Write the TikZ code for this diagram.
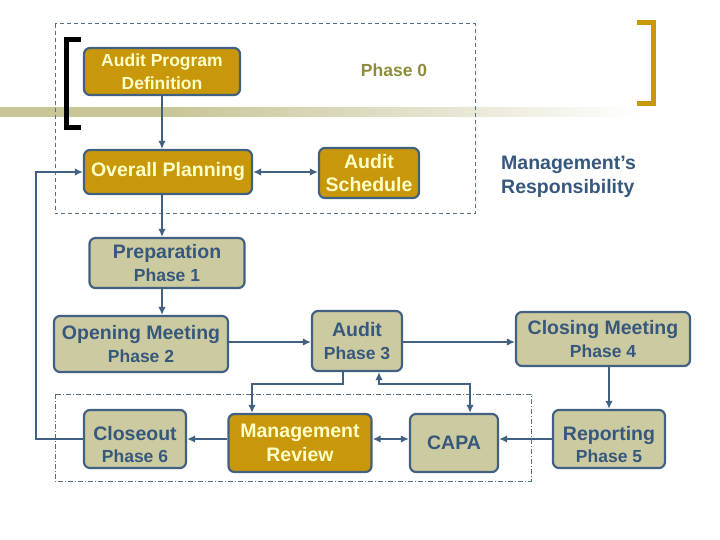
\documentclass[tikz,border=0pt]{standalone}
\usepackage{fontspec}
\setmainfont{Liberation Sans}
\usetikzlibrary{arrows.meta,calc}
\definecolor{gold}{RGB}{200,152,10}
\definecolor{khaki}{RGB}{204,202,160}
\definecolor{edge}{RGB}{66,96,128}
\definecolor{ktext}{RGB}{55,88,125}
\definecolor{gtext}{RGB}{255,255,200}
\definecolor{olivec}{RGB}{140,140,60}
\definecolor{barc}{RGB}{200,198,150}
\definecolor{barm}{RGB}{232,230,212}
\definecolor{dashc}{RGB}{90,110,130}
\pgfdeclarehorizontalshading{barshade}{100bp}{color(0bp)=(barc); color(37.9bp)=(barc); color(59.8bp)=(barm); color(73.5bp)=(white); color(100bp)=(white)}
\tikzset{
  box/.style={draw=edge, line width=2.2pt, rounded corners=6pt, align=center, inner sep=0pt,
    font=\bfseries\fontsize{19.5}{23.5}\selectfont},
  goldbox/.style={box, fill=gold, text=gtext},
  khakibox/.style={box, fill=khaki, text=ktext},
  conn/.style={draw=edge, line width=2.2pt, -{Latex[length=8pt,width=7.5pt]}},
  dconn/.style={draw=edge, line width=2.2pt, {Latex[length=8pt,width=7.5pt]}-{Latex[length=8pt,width=7.5pt]}},
}
\newcommand{\phs}[1]{{\fontsize{17.5}{23}\selectfont #1}}
\newcommand{\lowtwo}[2]{\raisebox{-8pt}[\height][\depth]{\begin{tabular}{@{}c@{}}#1\\[-1.5pt]\phs{#2}\end{tabular}}}
\begin{document}
\begin{tikzpicture}[x=1pt,y=-1pt]
\useasboundingbox (0,0) rectangle (720,540);
% background bar
\shade[shading=barshade] (0,108) rectangle (660,117);
% brackets
\draw[black, line width=5pt] (81,40) -- (66,40) -- (66,128) -- (81,128);
\draw[gold, line width=5pt] (637,23) -- (653,23) -- (653,104) -- (637,104);
% frames
\draw[dashc, line width=1pt, dash pattern=on 4pt off 3pt] (55,24) rectangle (475,214);
\draw[dashc, line width=0.8pt, dash pattern=on 5pt off 2pt on 1pt off 2pt] (55,394) rectangle (531,481);
% nodes
\node[goldbox, minimum width=156pt, minimum height=47pt, font=\bfseries\fontsize{17.5}{23}\selectfont] (apd) at (162,71.5) {Audit Program\\Definition};
\node[text=olivec, font=\bfseries\fontsize{17.5}{21}\selectfont] (ph0) at (394,70) {Phase 0};
\node[goldbox, minimum width=168pt, minimum height=44pt] (op) at (168,172) {Overall Planning};
\node[goldbox, minimum width=100pt, minimum height=50pt] (as) at (369,173) {Audit\\Schedule};
\node[text=ktext, align=left, anchor=west, inner sep=0pt, font=\bfseries\fontsize{19.5}{24}\selectfont] (mresp) at (501,177) {Management’s\\Responsibility};
\node[khakibox, minimum width=155pt, minimum height=50pt] (prep) at (167,263) {Preparation\\\phs{Phase 1}};
\node[khakibox, minimum width=174pt, minimum height=56pt] (open) at (141,344) {Opening Meeting\\\phs{Phase 2}};
\node[khakibox, minimum width=90pt, minimum height=60pt] (audit) at (357,341) {Audit\\\phs{Phase 3}};
\node[khakibox, minimum width=174pt, minimum height=54pt] (closing) at (603,339) {Closing Meeting\\\phs{Phase 4}};
\node[khakibox, minimum width=102pt, minimum height=58pt] (closeout) at (135,439) {\lowtwo{Closeout}{Phase 6}};
\node[goldbox, minimum width=143pt, minimum height=58pt] (mr) at (300,443) {Management\\Review};
\node[khakibox, minimum width=88pt, minimum height=58pt] (capa) at (454,443) {CAPA};
\node[khakibox, minimum width=112pt, minimum height=58pt] (rep) at (609,439) {\lowtwo{Reporting}{Phase 5}};
\coordinate (cx) at (162,0);
\coordinate (lx) at (36,0);
% connectors
\draw[conn] (apd.south -| cx) -- (op.north -| cx);
\draw[dconn] (op.east) -- (as.west |- op.east);
\draw[conn] (op.south -| cx) -- (prep.north -| cx);
\draw[conn] (prep.south -| cx) -- (open.north -| cx);
\draw[conn] (open.east |- 0,342) -- (audit.west |- 0,342);
\draw[conn] (audit.east |- 0,342) -- (closing.west |- 0,342);
\draw[conn] (closing.south -| rep) -- (rep.north);
\draw[conn] (rep.west) -- (capa.east |- rep.west);
\draw[dconn] (mr.east |- rep.west) -- (capa.west |- rep.west);
\draw[conn] (mr.west |- rep.west) -- (closeout.east);
\draw[conn] (closeout.west) -- (closeout.west -| lx) |- (op.west);
\draw[conn] ([xshift=-14pt]audit.south) -- ++(0,12) -| ([xshift=-48pt]mr.north);
\draw[dconn] ([xshift=22pt]audit.south) -- ++(0,12) -| ([xshift=16pt]capa.north);
\end{tikzpicture}
\end{document}
